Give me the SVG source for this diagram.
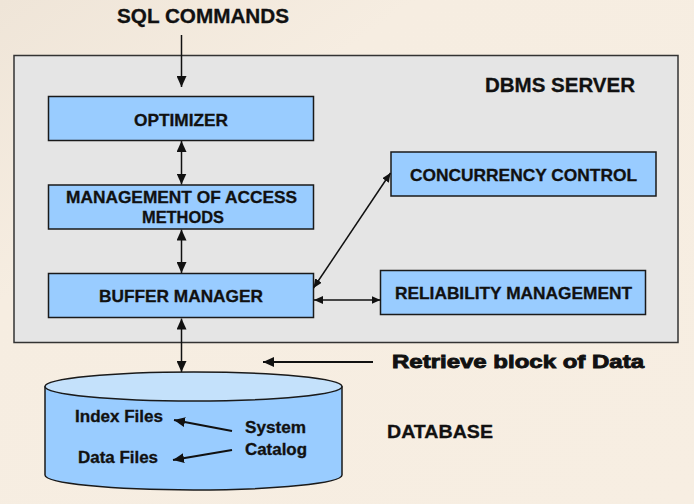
<svg xmlns="http://www.w3.org/2000/svg" width="694" height="504" viewBox="0 0 694 504">
<style>
.box{fill:#99ccff;stroke:#1a1a1a;stroke-width:1.5}
.t{font-family:"Liberation Sans",Arial,sans-serif;font-weight:bold;fill:#111;text-anchor:middle;stroke:#111;stroke-width:0.3}
.c{stroke:#111;stroke-width:1.5;fill:none}
.c2{stroke:#111;stroke-width:2.2;fill:none}
</style>
<defs>
<linearGradient id="bg" x1="0" y1="0" x2="1" y2="1">
<stop offset="0" stop-color="#efe5d8"/>
<stop offset="0.3" stop-color="#f6ede1"/>
<stop offset="1" stop-color="#f7eee2"/>
</linearGradient>
<marker id="ah" markerUnits="userSpaceOnUse" markerWidth="11" markerHeight="10" refX="11" refY="5" orient="auto-start-reverse">
<path d="M0,0 L11,5 L0,10 z" fill="#111"/>
</marker>
<marker id="ahs" markerUnits="userSpaceOnUse" markerWidth="9" markerHeight="8" refX="9" refY="4" orient="auto-start-reverse">
<path d="M0,0 L9,4 L0,8 z" fill="#111"/>
</marker>
</defs>
<rect x="0" y="0" width="694" height="504" fill="url(#bg)"/>

<g id="server">
<rect x="14" y="55.5" width="664" height="287" fill="#e5e5e5" stroke="#333" stroke-width="1.5"/>
<text class="t" x="560" y="92" font-size="20" textLength="150" lengthAdjust="spacingAndGlyphs">DBMS SERVER</text>
</g>

<g id="sql">
<text class="t" x="203" y="23" font-size="20" textLength="172" lengthAdjust="spacingAndGlyphs">SQL COMMANDS</text>
</g>

<g id="optimizer">
<rect class="box" x="48.5" y="96.5" width="265" height="44"/>
<text class="t" x="181" y="126" font-size="16.5" textLength="94" lengthAdjust="spacingAndGlyphs">OPTIMIZER</text>
</g>

<g id="access">
<rect class="box" x="48.5" y="185" width="265" height="44"/>
<text class="t" x="181.5" y="203" font-size="16.5" textLength="231" lengthAdjust="spacingAndGlyphs">MANAGEMENT OF ACCESS</text>
<text class="t" x="183" y="223" font-size="16.5" textLength="82" lengthAdjust="spacingAndGlyphs">METHODS</text>
</g>

<g id="buffer">
<rect class="box" x="48.5" y="273.5" width="265" height="44"/>
<text class="t" x="181" y="302" font-size="16.5" textLength="164" lengthAdjust="spacingAndGlyphs">BUFFER MANAGER</text>
</g>

<g id="concurrency">
<rect class="box" x="391" y="152" width="265" height="44"/>
<text class="t" x="523.5" y="181" font-size="16.5" textLength="227" lengthAdjust="spacingAndGlyphs">CONCURRENCY CONTROL</text>
</g>

<g id="reliability">
<rect class="box" x="380.5" y="270.5" width="265" height="44"/>
<text class="t" x="513.5" y="299" font-size="16.5" textLength="237" lengthAdjust="spacingAndGlyphs">RELIABILITY MANAGEMENT</text>
</g>

<g id="database">
<path d="M45,387 L45,475 A148.5,15 0 0 0 342,475 L342,387 Z" fill="#99ccff" stroke="#1a1a1a" stroke-width="1.5"/>
<ellipse cx="193.5" cy="386.5" rx="148.5" ry="14.5" fill="#c4e1fb" stroke="#1a1a1a" stroke-width="1.5"/>
<text class="t" x="119" y="422" font-size="16" textLength="88" lengthAdjust="spacingAndGlyphs">Index Files</text>
<text class="t" x="118" y="463" font-size="16" textLength="80" lengthAdjust="spacingAndGlyphs">Data Files</text>
<text class="t" x="275.5" y="433" font-size="16" textLength="61" lengthAdjust="spacingAndGlyphs">System</text>
<text class="t" x="276" y="455" font-size="16" textLength="62" lengthAdjust="spacingAndGlyphs">Catalog</text>
</g>

<g id="labels">
<text class="t" x="440" y="438" font-size="19" textLength="106" lengthAdjust="spacingAndGlyphs">DATABASE</text>
<text class="t" x="518" y="368" font-size="19" textLength="252" lengthAdjust="spacingAndGlyphs" style="stroke-width:0.9">Retrieve block of Data</text>
</g>

<g id="connectors">
<line class="c" x1="181.5" y1="35" x2="181.5" y2="87" marker-end="url(#ah)"/>
<line class="c" x1="181.5" y1="141" x2="181.5" y2="184.5" marker-start="url(#ah)" marker-end="url(#ah)"/>
<line class="c" x1="181.5" y1="229.5" x2="181.5" y2="273" marker-start="url(#ah)" marker-end="url(#ah)"/>
<line class="c" x1="181.5" y1="318.5" x2="181.5" y2="372" marker-start="url(#ah)" marker-end="url(#ah)"/>
<line class="c" x1="390.5" y1="173" x2="313.5" y2="288" marker-start="url(#ahs)" marker-end="url(#ahs)"/>
<line class="c" x1="314" y1="300" x2="380.5" y2="300" marker-start="url(#ahs)" marker-end="url(#ahs)"/>
<line class="c2" x1="373" y1="362" x2="263" y2="362" marker-end="url(#ah)"/>
<line class="c2" x1="232" y1="431" x2="174" y2="420" marker-end="url(#ah)"/>
<line class="c2" x1="232" y1="450" x2="173" y2="460" marker-end="url(#ah)"/>
</g>
</svg>
